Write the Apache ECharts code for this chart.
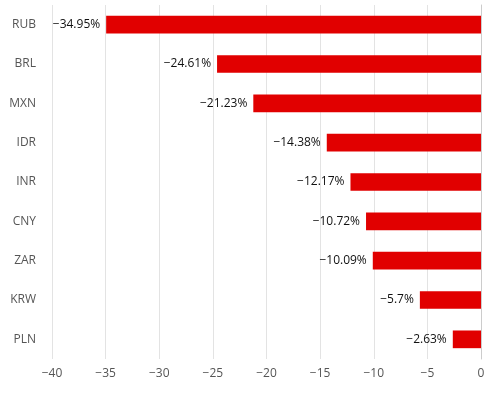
<!DOCTYPE html>
<html>
  <head>
    <meta charset="utf-8" />
    <title>Currency change</title>
    <script src="https://cdn.jsdelivr.net/npm/echarts@6/dist/echarts.min.js"></script>
    <style>
      html,
      body,
      #chart {
        padding: 0;
        margin: 0;
        width: 484px;
        height: 397px;
        background: #fff;
      }
    </style>
  </head>
  <body>
    <div id="chart"></div>
    <script>
      var currencies = ["RUB", "BRL", "MXN", "IDR", "INR", "CNY", "ZAR", "KRW", "PLN"];
      var changes = [-34.95, -24.61, -21.23, -14.38, -12.17, -10.72, -10.09, -5.7, -2.63];

      function minus(s) {
        return String(s).replace("-", "\u2212");
      }

      var myChart = echarts.init(document.getElementById("chart"));
      var option = {
        animation: false,
        textStyle: { fontFamily: "Open Sans" },
        grid: {
          left: 52,
          right: 3,
          top: 5,
          bottom: 38,
          containLabel: false,
          outerBoundsMode: "none"
        },
        xAxis: {
          type: "value",
          min: -40,
          max: 0,
          interval: 5,
          axisLine: { show: false },
          axisTick: { show: false },
          axisLabel: {
            color: "#555",
            fontSize: 12,
            margin: 9,
            formatter: function (v) {
              return minus(v);
            }
          },
          splitLine: { lineStyle: { color: "#e3e3e3" } }
        },
        yAxis: {
          type: "category",
          data: currencies,
          inverse: true,
          axisLine: { lineStyle: { color: "#ccc" } },
          axisTick: { length: 8, lineStyle: { color: "#ccc" } },
          axisLabel: { color: "#555", fontSize: 12, margin: 16 }
        },
        series: [
          {
            type: "bar",
            data: changes,
            barCategoryGap: "55%",
            itemStyle: { color: "#e10000" },
            label: {
              show: true,
              position: "left",
              distance: 6,
              color: "#111",
              fontSize: 12,
              fontWeight: 500,
              formatter: function (p) {
                return minus(p.value) + "%";
              }
            }
          }
        ]
      };
      myChart.setOption(option);
    </script>
  </body>
</html>
